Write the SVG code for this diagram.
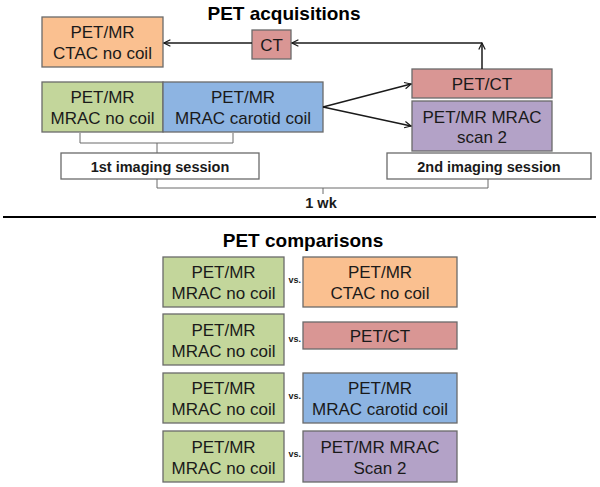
<svg xmlns="http://www.w3.org/2000/svg" width="600" height="487" viewBox="0 0 600 487">
<defs>
<style>
text{font-family:"Liberation Sans",Arial,sans-serif;fill:#1a1a1a;text-anchor:middle}
.t{font-size:17px}
.h{font-size:19px;font-weight:bold;fill:#000}
.s{font-size:14.5px;font-weight:bold}
.vs{font-size:9px;font-weight:bold;text-anchor:start}
.box{stroke:#6a6a6a;stroke-width:1.3}
.g{fill:#C3D69B}.b{fill:#8DB4E2}.o{fill:#FAC090}.r{fill:#D99694}.p{fill:#B3A2C7}.w{fill:#fff}
.ln{fill:none;stroke:#1a1a1a;stroke-width:1.5}
.br{fill:none;stroke:#6a6a6a;stroke-width:1}
</style>
<marker id="ah" viewBox="0 0 10 10" refX="9" refY="5" markerWidth="8" markerHeight="8" orient="auto" markerUnits="userSpaceOnUse">
<path d="M1,1 L9,5 L1,9" fill="none" stroke="#1a1a1a" stroke-width="1.5"/>
</marker>
</defs>
<rect width="600" height="487" fill="#fff"/>
<text class="h" x="284" y="20">PET acquisitions</text>
<g id="ctac"><rect class="box o" x="42" y="17" width="121" height="50"/><text class="t" x="102.5" y="38">PET/MR</text><text class="t" x="102.5" y="59">CTAC no coil</text></g>
<g id="ct"><rect class="box r" x="252" y="30" width="39" height="29"/><text class="t" x="271.5" y="51">CT</text></g>
<g id="mrac"><rect class="box g" x="42" y="82" width="121" height="50"/><text class="t" x="102.5" y="103">PET/MR</text><text class="t" x="102.5" y="124">MRAC no coil</text></g>
<g id="carotid"><rect class="box b" x="163" y="82" width="160" height="50"/><text class="t" x="243" y="103">PET/MR</text><text class="t" x="243" y="124">MRAC carotid coil</text></g>
<g id="petct"><rect class="box r" x="412" y="69" width="140" height="29"/><text class="t" x="482" y="90">PET/CT</text></g>
<g id="scan2"><rect class="box p" x="412" y="101" width="140" height="50"/><text class="t" x="482" y="122.5">PET/MR MRAC</text><text class="t" x="482" y="143">scan 2</text></g>
<g id="session1"><rect class="box w" x="61" y="153" width="198" height="26"/><text class="s" x="160" y="172">1st imaging session</text></g>
<g id="session2"><rect class="box w" x="387" y="153" width="204" height="26"/><text class="s" x="489" y="172">2nd imaging session</text></g>
<g id="wk"><text class="s" x="321" y="208">1 wk</text></g>
<g id="connectors">
<line class="ln" x1="252" y1="43" x2="164" y2="43" marker-end="url(#ah)"/>
<line class="ln" x1="482" y1="69" x2="482" y2="43" marker-end="url(#ah)"/>
<line class="ln" x1="482" y1="43" x2="292" y2="43" marker-end="url(#ah)"/>
<line class="ln" x1="323" y1="107" x2="411" y2="84" marker-end="url(#ah)"/>
<line class="ln" x1="323" y1="107" x2="411" y2="126" marker-end="url(#ah)"/>
<path class="br" d="M80,133 V143 H233 V133 M157,143 V153"/>
<path class="br" d="M157,179 V188 H488 V179 M323,188 V194"/>
<line x1="3" y1="217" x2="596" y2="217" stroke="#000" stroke-width="2"/>
</g>
<text class="h" x="303" y="247">PET comparisons</text>
<g id="c1l"><rect class="box g" x="163" y="257" width="121" height="50"/><text class="t" x="223.5" y="278">PET/MR</text><text class="t" x="223.5" y="299">MRAC no coil</text></g>
<g id="c1r"><rect class="box o" x="303" y="257" width="154" height="50"/><text class="t" x="380" y="278">PET/MR</text><text class="t" x="380" y="299">CTAC no coil</text></g>
<g id="c2l"><rect class="box g" x="163" y="314" width="121" height="51"/><text class="t" x="223.5" y="335.5">PET/MR</text><text class="t" x="223.5" y="356.5">MRAC no coil</text></g>
<g id="c2r"><rect class="box r" x="303" y="322" width="154" height="27"/><text class="t" x="380" y="341.5">PET/CT</text></g>
<g id="c3l"><rect class="box g" x="163" y="373" width="121" height="50"/><text class="t" x="223.5" y="394">PET/MR</text><text class="t" x="223.5" y="415">MRAC no coil</text></g>
<g id="c3r"><rect class="box b" x="303" y="373" width="154" height="50"/><text class="t" x="380" y="394">PET/MR</text><text class="t" x="380" y="415">MRAC carotid coil</text></g>
<g id="c4l"><rect class="box g" x="163" y="431" width="121" height="51"/><text class="t" x="223.5" y="452.5">PET/MR</text><text class="t" x="223.5" y="473.5">MRAC no coil</text></g>
<g id="c4r"><rect class="box p" x="303" y="431" width="154" height="51"/><text class="t" x="380" y="452.5">PET/MR MRAC</text><text class="t" x="380" y="473.5">Scan 2</text></g>
<g id="vs">
<text class="vs" x="288.5" y="283">vs.</text>
<text class="vs" x="288.5" y="342">vs.</text>
<text class="vs" x="288.5" y="399">vs.</text>
<text class="vs" x="288.5" y="457">vs.</text>
</g>
</svg>
